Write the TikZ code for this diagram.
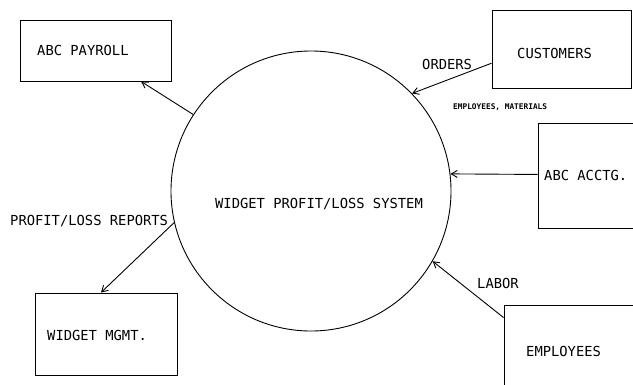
\documentclass[tikz,border=0pt]{standalone}
\usepackage{fontspec}
\setmonofont{DejaVu Sans Mono}
\usetikzlibrary{arrows.meta,calc}

\tikzset{
  entity/.style={draw, line width=0.9pt, rectangle, inner sep=0pt},
  process/.style={draw, line width=0.9pt, circle, inner sep=0pt, minimum size=280pt},
  lbl/.style={inner sep=0pt, font=\ttfamily\fontsize{13.8}{16}\selectfont},
  tinylbl/.style={inner sep=0pt, font=\ttfamily\bfseries\fontsize{7.8}{9}\selectfont},
  flow/.style={line width=0.9pt, -{Straight Barb[length=6pt,width=7pt]}},
}

\begin{document}
\begin{tikzpicture}[x=1pt, y=-1pt]
  \useasboundingbox (0,0) rectangle (633,384);
  \clip (0,0) rectangle (633,384);

  % central process
  \node[process] (sys) at (311,191) {};
  \node[lbl] (systxt) at (319,204) {WIDGET PROFIT/LOSS SYSTEM};

  % external entities
  \node[entity, minimum width=151pt, minimum height=61pt] (pay) at (95.5,50.5) {};
  \node[lbl, anchor=west] (paytxt) at (37,50) {ABC PAYROLL};

  \node[entity, minimum width=139pt, minimum height=78pt] (cust) at (561.5,49) {};
  \node[lbl, anchor=west] (custtxt) at (517,53) {CUSTOMERS};

  \node[entity, minimum width=130pt, minimum height=105pt] (acctg) at (603,175.5) {};
  \node[lbl, anchor=west] (acctgtxt) at (544,175) {ABC ACCTG.};

  \node[entity, minimum width=150pt, minimum height=110pt] (emp) at (579,360) {};
  \node[lbl, anchor=west] (emptxt) at (526,351) {EMPLOYEES};

  \node[entity, minimum width=142pt, minimum height=82pt] (mgmt) at (106,334) {};
  \node[lbl, anchor=west] (mgmttxt) at (47,335) {WIDGET MGMT.};

  % data flows
  \draw[flow] (sys.147) -- ($(pay.south west)!0.8!(pay.south east)$);
  \draw[flow] ($(cust.north west)!0.68!(cust.south west)$) -- (sys.44);
  \draw[flow] ($(acctg.north west)!0.49!(acctg.south west)$) -- (sys.7);
  \draw[flow] (sys.193) -- ($(mgmt.north west)!0.465!(mgmt.north east)$);
  \draw[flow] ($(emp.north west)+(0,13)$) -- (sys.330);

  % flow labels
  \node[lbl, anchor=west] (orders) at (422,64) {ORDERS};
  \node[tinylbl, anchor=west] (empmat) at (453,107) {EMPLOYEES, MATERIALS};
  \node[lbl, anchor=west] (labor) at (477,283) {LABOR};
  \node[lbl, anchor=west] (reports) at (10,221) {PROFIT/LOSS REPORTS};
\end{tikzpicture}
\end{document}
